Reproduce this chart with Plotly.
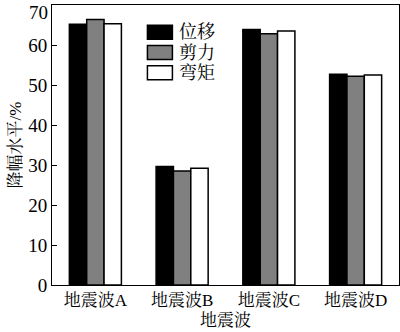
import plotly.graph_objects as go

# Seismic wave cases and reduction levels (%) for each response quantity
waves = ["地震波A", "地震波B", "地震波C", "地震波D"]
series_names = ["位移", "剪力", "弯矩"]
displacement = [65.2, 29.6, 63.9, 52.7]
shear = [66.4, 28.5, 62.8, 52.2]
moment = [65.3, 29.2, 63.5, 52.5]
y_ticks = [0, 10, 20, 30, 40, 50, 60, 70]

fills = ["#000000", "#808080", "#ffffff"]
values = [displacement, shear, moment]

FONT = "Liberation Serif, Times New Roman, Noto Serif CJK SC, Noto Sans CJK SC, serif"

fig = go.Figure()
for name, vals, col in zip(series_names, values, fills):
    fig.add_trace(go.Bar(
        x=waves, y=vals, name=name,
        marker=dict(color=col, line=dict(color="#000000", width=1.5)),
        showlegend=False,
    ))

# Legend drawn as boxed swatches with labels
lx0, lx1 = 0.275, 0.347
row_top = [0.928, 0.855, 0.783]
sw_h = 0.05
for name, col, top in zip(series_names, fills, row_top):
    fig.add_shape(type="rect", xref="paper", yref="paper",
                  x0=lx0, x1=lx1, y0=top - sw_h, y1=top,
                  fillcolor=col, line=dict(color="#000000", width=1.5))
    fig.add_annotation(xref="paper", yref="paper", x=lx1 + 0.012, y=top - sw_h / 2,
                       text=name, showarrow=False, xanchor="left", yanchor="middle",
                       font=dict(size=18, color="#000000", family=FONT))

# the top tick label sits on the frame edge, so place it explicitly, kept inside the page
top_tick = y_ticks[-1]
fig.add_annotation(xref="paper", yref="y", x=0, y=top_tick, xshift=-2, yshift=5,
                   text=str(top_tick), showarrow=False,
                   xanchor="right", yanchor="top",
                   font=dict(size=19, color="#000000", family=FONT))

fig.update_layout(
    width=400, height=332,
    margin=dict(l=52, r=1, t=5, b=47),
    paper_bgcolor="#ffffff", plot_bgcolor="#ffffff",
    barmode="group", bargap=0.4, bargroupgap=0,
    font=dict(family=FONT, size=17, color="#000000"),
    showlegend=False,
)
fig.update_xaxes(
    title=dict(text="地震波", font=dict(size=17), standoff=4),
    showline=True, linecolor="#000000", linewidth=1, mirror=True,
    ticks="", showgrid=False, tickfont=dict(size=17),
)
fig.update_yaxes(
    title=dict(text="降幅水平/%", font=dict(size=17), standoff=2),
    range=[0, 70], tickvals=y_ticks[:-1],
    showline=True, linecolor="#000000", linewidth=1, mirror=True,
    ticks="inside", ticklen=5, tickcolor="#000000",
    showgrid=False, zeroline=False, tickfont=dict(size=19),
)

fig.write_html("out.html")
